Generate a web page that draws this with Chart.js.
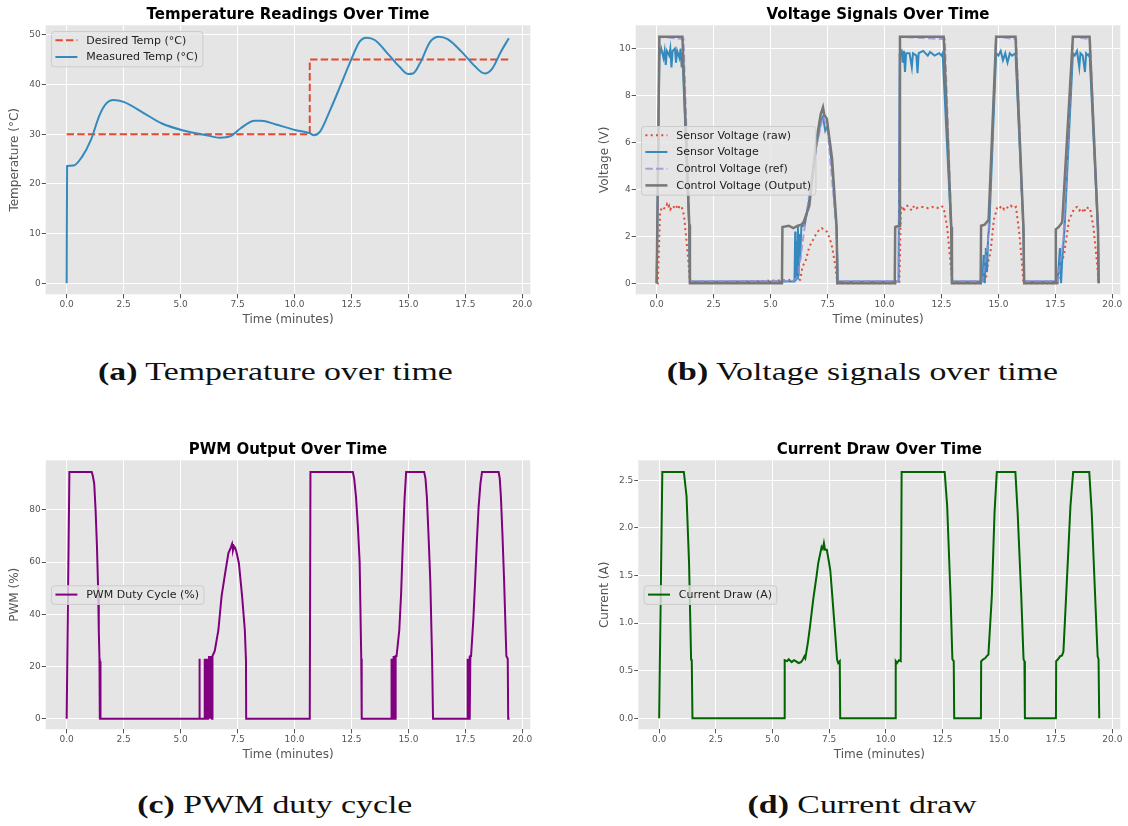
<!DOCTYPE html>
<html>
<head>
    <title>Controller Log</title>
    <meta charset="UTF-8">
    <script src="https://cdn.jsdelivr.net/npm/chart.js@4.4.1/dist/chart.umd.min.js"></script>
    <style>
        body { margin: 0; background: #fff; width: 1128px; height: 826px; position: relative; overflow: hidden; }
        canvas { position: absolute; }
        .cap { position: absolute; width: 560px; text-align: center; font-family: "Liberation Serif", serif; font-size: 26px; line-height: 36px; color: #111; }
        .cap span { display: inline-block; transform: scaleX(1.3); transform-origin: center; }
    </style>
</head>
<body>
    <canvas id="tempChart" width="564" height="340" style="left:0;top:0"></canvas>
    <canvas id="voltChart" width="538" height="340" style="left:590px;top:0"></canvas>
    <canvas id="pwmChart" width="564" height="340" style="left:0;top:435px"></canvas>
    <canvas id="currentChart" width="538" height="340" style="left:590px;top:435px"></canvas>

    <div class="cap" style="left:-5px;top:354px"><span><b>(a)</b> Temperature over time</span></div>
    <div class="cap" style="left:582px;top:354px"><span><b>(b)</b> Voltage signals over time</span></div>
    <div class="cap" style="left:-5px;top:787px"><span><b>(c)</b> PWM duty cycle</span></div>
    <div class="cap" style="left:582px;top:787px"><span><b>(d)</b> Current draw</span></div>

    <script>
        // tick labels
        const timeTicks = [0, 2.5, 5, 7.5, 10, 12.5, 15, 17.5, 20];
        const tempTicks = [0, 10, 20, 30, 40, 50];
        const voltTicks = [0, 2, 4, 6, 8, 10];
        const pwmTicks = [0, 20, 40, 60, 80];
        const currentTicks = [0, 0.5, 1, 1.5, 2, 2.5];

        // temperature (minutes, degC)
        const setTime = [0, 10.67, 10.67, 19.41];
        const setTemp = [30, 30, 45, 45];
        const tempTime = [0, 0.02, 0.3, 0.68, 1.06, 1.44, 1.74, 2.04, 2.5, 3.4, 4.16, 5.07, 6.13, 6.73, 7.19, 7.64, 8.25, 8.55, 9.15, 10.06, 10.67, 10.85, 11.12, 11.57, 12.03, 12.48, 12.86, 13.16, 13.54, 14.15, 14.6, 14.98, 15.2, 15.5, 15.96, 16.34, 16.72, 17.33, 17.93, 18.35, 18.68, 19.06, 19.41];
        const tempMeasured = [0, 23.6, 23.7, 25.5, 28.8, 33.8, 36.2, 36.9, 36.5, 34.2, 32.2, 30.8, 29.8, 29.3, 29.6, 31.2, 32.7, 32.7, 32.0, 30.8, 30.2, 29.8, 30.5, 34.9, 39.9, 44.9, 48.6, 49.4, 48.9, 45.9, 43.6, 42.1, 42.2, 44.2, 48.6, 49.6, 49.1, 46.6, 43.6, 42.2, 43.2, 46.6, 49.3];

        // voltages
        const rawTime = [0, 0.05, 0.15, 0.23, 0.3, 0.4, 0.45, 0.5, 0.55, 0.6, 0.7, 0.8, 0.85, 0.95, 1.0, 1.1, 1.2, 1.28, 1.4, 1.46, 6.3, 6.4, 6.55, 6.7, 7.0, 7.15, 7.25, 7.35, 7.47, 7.6, 7.7, 7.85, 7.93, 10.65, 10.72, 10.8, 10.85, 10.9, 11.0, 11.1, 11.2, 11.3, 11.4, 11.5, 11.7, 11.9, 12.1, 12.3, 12.5, 12.6, 12.75, 12.9, 12.98, 14.35, 14.45, 14.55, 14.65, 14.8, 14.95, 15.05, 15.15, 15.25, 15.35, 15.45, 15.55, 15.65, 15.77, 15.92, 16.05, 16.1, 17.6, 17.7, 17.89, 18.1, 18.34, 18.45, 18.55, 18.65, 18.75, 18.85, 18.95, 19.02, 19.17, 19.33, 19.4];
        const rawVolt = [0, 0, 3.0, 3.25, 3.2, 3.2, 3.35, 3.2, 3.3, 3.15, 3.3, 3.2, 3.3, 3.15, 3.3, 3.25, 2.9, 2.1, 0.85, 0, 0.15, 0.7, 1.0, 1.55, 2.1, 2.3, 2.35, 2.25, 2.2, 1.9, 1.55, 0.7, 0, 0, 3.2, 3.3, 3.05, 3.25, 3.3, 3.2, 3.1, 3.3, 3.2, 3.25, 3.25, 3.2, 3.25, 3.2, 3.3, 3.2, 2.4, 0.85, 0, 0, 0.2, 0.9, 1.3, 2.7, 3.25, 3.2, 3.3, 3.15, 3.25, 3.2, 3.3, 3.2, 3.25, 2.1, 0.7, 0, 0, 0.5, 1.3, 2.7, 3.2, 3.25, 3.1, 3.2, 3.0, 3.25, 3.2, 3.2, 2.4, 0.85, 0];
        const sensTime = [0, 0.12, 0.2, 0.3, 0.35, 0.4, 0.45, 0.55, 0.6, 0.65, 0.7, 0.8, 0.85, 0.9, 1.0, 1.05, 1.1, 1.13, 1.43, 1.46, 6.05, 6.08, 6.1, 6.13, 6.16, 6.2, 6.23, 6.27, 6.3, 6.35, 6.5, 6.7, 7.0, 7.2, 7.3, 7.4, 7.5, 7.7, 7.9, 7.95, 10.6, 10.62, 10.67, 10.75, 10.8, 10.85, 10.9, 10.95, 11.1, 11.2, 11.25, 11.4, 11.45, 11.5, 11.7, 11.9, 12.0, 12.2, 12.4, 12.5, 12.55, 12.93, 12.96, 14.3, 14.35, 14.4, 14.45, 14.5, 14.55, 14.6, 14.9, 15.0, 15.1, 15.2, 15.3, 15.4, 15.5, 15.6, 15.75, 16.1, 16.13, 17.6, 17.7, 17.75, 17.8, 17.9, 18.27, 18.35, 18.45, 18.55, 18.6, 18.7, 18.8, 18.85, 18.95, 19.0, 19.37, 19.4];
        const sensVolt = [0, 9.7, 10.0, 9.6, 9.9, 9.3, 9.9, 9.7, 10.0, 9.2, 9.9, 10.0, 9.4, 9.9, 9.6, 10.0, 9.2, 9.8, 2.3, 0.08, 0.08, 2.2, 0.1, 1.8, 0.2, 2.4, 0.3, 2.1, 1.0, 2.4, 2.5, 3.6, 5.8, 6.9, 7.1, 6.5, 6.7, 5.0, 2.2, 0.08, 0.08, 0.3, 9.8, 9.9, 9.4, 9.9, 9.0, 9.8, 9.8, 9.2, 9.8, 9.7, 8.95, 9.8, 9.9, 9.7, 9.85, 9.7, 9.8, 9.7, 9.8, 2.2, 0.08, 0.08, 1.2, 0.0, 1.5, 0.5, 2.0, 2.4, 9.8, 9.7, 9.9, 9.5, 9.8, 9.4, 9.8, 9.7, 9.8, 2.2, 0.08, 0.08, 1.5, 0.0, 1.0, 2.3, 9.8, 9.7, 9.9, 9.2, 9.8, 9.7, 9.0, 9.8, 9.7, 9.8, 2.2, 0];
        const refTime = [0, 0.12, 1.18, 1.45, 1.47, 6.0, 6.2, 6.5, 7.0, 7.3, 7.5, 7.9, 7.95, 10.62, 10.68, 12.65, 12.95, 12.98, 14.3, 14.55, 14.9, 15.78, 16.1, 16.13, 17.6, 17.85, 18.27, 19.02, 19.38, 19.4];
        const refVolt = [0, 10.5, 10.4, 2.0, 0.1, 0.1, 0.3, 2.4, 5.8, 7.1, 6.6, 2.2, 0.1, 0.1, 10.5, 10.4, 2.0, 0.1, 0.1, 1.8, 10.5, 10.4, 2.0, 0.1, 0.1, 1.8, 10.5, 10.4, 2.0, 0.1];
        const outTime = [0, 0.12, 1.13, 1.43, 1.46, 5.5, 5.52, 5.8, 6.0, 6.2, 6.35, 6.45, 6.7, 7.0, 7.2, 7.3, 7.35, 7.47, 7.7, 7.9, 7.93, 10.45, 10.47, 10.65, 10.68, 12.6, 12.93, 12.96, 14.22, 14.24, 14.4, 14.57, 14.9, 15.75, 16.1, 16.13, 17.5, 17.52, 17.65, 17.8, 18.27, 19.0, 19.37, 19.4];
        const outVolt = [0, 10.5, 10.5, 2.5, 0, 0, 2.4, 2.45, 2.35, 2.45, 2.5, 2.6, 3.3, 6.0, 7.2, 7.5, 7.2, 7.0, 5.3, 2.4, 0, 0, 2.4, 2.45, 10.5, 10.5, 2.4, 0, 0, 2.45, 2.5, 2.7, 10.5, 10.5, 2.4, 0, 0, 2.3, 2.4, 2.6, 10.5, 10.5, 2.4, 0];

        // PWM duty cycle (%)
        const pwmTime = [0, 0.12, 1.1, 1.15, 1.21, 1.27, 1.33, 1.38, 1.41, 1.44, 1.45, 1.46, 1.47, 1.48, 1.49, 5.82, 5.83, 5.84, 6.05, 6.06, 6.08, 6.1, 6.12, 6.15, 6.17, 6.2, 6.22, 6.25, 6.27, 6.3, 6.32, 6.35, 6.38, 6.4, 6.5, 6.66, 6.8, 6.96, 7.1, 7.2, 7.26, 7.3, 7.35, 7.4, 7.45, 7.56, 7.7, 7.82, 7.87, 7.88, 10.67, 10.7, 12.56, 12.62, 12.7, 12.78, 12.86, 12.93, 12.95, 14.25, 14.26, 14.28, 14.3, 14.32, 14.35, 14.37, 14.4, 14.42, 14.44, 14.48, 14.6, 14.68, 14.75, 14.83, 14.9, 15.69, 15.75, 15.81, 15.88, 15.96, 16.04, 16.07, 16.08, 17.58, 17.59, 17.61, 17.64, 17.66, 17.68, 17.7, 17.72, 17.75, 17.85, 17.93, 18.0, 18.08, 18.16, 18.23, 18.96, 19.01, 19.06, 19.13, 19.2, 19.3, 19.36, 19.38, 19.44];
        const pwmDuty = [0, 94.6, 94.6, 93, 90, 80, 66, 50, 34, 23, 0, 23, 0, 22, 0, 0, 23, 0, 0, 23, 0, 23, 0, 23, 0, 23, 0, 24, 0, 24, 0, 23, 0, 24, 26, 34, 47, 56, 63.5, 65.5, 67, 64.5, 66, 65.4, 64, 59.6, 47, 34, 22.5, 0, 0, 94.6, 94.6, 92, 85, 74, 60, 23, 0, 0, 23, 0, 23, 0, 24, 0, 24, 0, 24, 24, 34, 48, 66, 84, 94.6, 94.6, 92, 85, 71, 53, 23, 23, 0, 0, 23, 0, 23, 0, 24, 0, 24, 24, 38, 53, 67, 81, 90, 94.6, 94.6, 92, 85, 70, 53, 24, 23, 0, 0];

        // current draw (A)
        const curTime = [0, 0.14, 1.09, 1.21, 1.32, 1.41, 1.44, 1.47, 5.53, 5.54, 5.65, 5.72, 5.85, 5.95, 6.03, 6.15, 6.26, 6.35, 6.41, 6.45, 6.56, 6.65, 6.71, 6.8, 6.86, 6.95, 7.02, 7.1, 7.17, 7.22, 7.27, 7.32, 7.4, 7.48, 7.55, 7.62, 7.7, 7.78, 7.85, 7.9, 7.97, 7.99, 10.43, 10.44, 10.5, 10.58, 10.66, 10.7, 12.6, 12.71, 12.86, 12.94, 13.0, 13.02, 14.2, 14.21, 14.3, 14.38, 14.45, 14.53, 14.68, 14.8, 14.9, 15.72, 15.82, 15.98, 16.08, 16.12, 16.14, 17.51, 17.52, 17.6, 17.69, 17.78, 17.84, 18.03, 18.15, 18.27, 18.98, 19.09, 19.24, 19.35, 19.39, 19.42];
        const curAmp = [0, 2.588, 2.588, 2.33, 1.63, 0.62, 0.6, 0, 0, 0.61, 0.6, 0.62, 0.59, 0.61, 0.6, 0.58, 0.59, 0.62, 0.65, 0.63, 0.79, 0.95, 1.07, 1.25, 1.35, 1.5, 1.63, 1.72, 1.8, 1.78, 1.84, 1.77, 1.77, 1.66, 1.56, 1.35, 1.1, 0.85, 0.62, 0.58, 0.6, 0, 0, 0.6, 0.58, 0.61, 0.6, 2.588, 2.588, 2.23, 1.28, 0.62, 0.6, 0, 0, 0.6, 0.62, 0.63, 0.65, 0.67, 1.28, 2.16, 2.588, 2.588, 2.16, 1.28, 0.62, 0.6, 0, 0, 0.6, 0.62, 0.65, 0.66, 0.7, 1.63, 2.23, 2.588, 2.588, 2.16, 1.28, 0.65, 0.62, 0];

        Chart.defaults.font.family = 'DejaVu Sans';

        function pts(xs, ys) {
            return xs.map((x, i) => ({ x: x, y: ys[i] }));
        }

        // grey panel behind the plot, ggplot style
        const ggBackground = {
            id: 'ggBackground',
            beforeDraw(chart) {
                const { ctx, chartArea: a } = chart;
                ctx.save();
                ctx.fillStyle = '#E5E5E5';
                ctx.fillRect(a.left, a.top, a.right - a.left, a.bottom - a.top);
                ctx.restore();
            }
        };

        // matplotlib-like legend box inside the plot
        const mplLegend = {
            id: 'mplLegend',
            afterDatasetsDraw(chart, args, opts) {
                const { ctx, chartArea: a } = chart;
                const sets = chart.data.datasets;
                const row = 16.7, pad = 4.4, handle = 22, gap = 8.8;
                ctx.save();
                ctx.font = '11px "DejaVu Sans"';
                const textW = Math.max(...sets.map(d => ctx.measureText(d.label).width));
                const x0 = a.left + opts.left, y0 = a.top + opts.top;
                const w = pad + handle + gap + textW + pad;
                const h = 18.6 + row * (sets.length - 1);
                ctx.beginPath();
                ctx.roundRect(x0 + 0.5, y0 + 0.5, w, h, 3);
                ctx.fillStyle = 'rgba(229,229,229,0.8)';
                ctx.fill();
                ctx.strokeStyle = '#cccccc';
                ctx.lineWidth = 1;
                ctx.stroke();
                sets.forEach((d, i) => {
                    const y = y0 + 9.3 + i * row;
                    ctx.beginPath();
                    ctx.setLineDash(d.borderDash || []);
                    ctx.strokeStyle = d.borderColor;
                    ctx.lineWidth = d.borderWidth;
                    ctx.moveTo(x0 + pad, y);
                    ctx.lineTo(x0 + pad + handle, y);
                    ctx.stroke();
                    ctx.setLineDash([]);
                    ctx.fillStyle = '#222';
                    ctx.textBaseline = 'middle';
                    ctx.fillText(d.label, x0 + pad + handle + gap, y + 0.5);
                });
                ctx.restore();
            }
        };

        function makePanel(id, cfg) {
            const n = cfg.datasets.length;
            cfg.datasets.forEach((d, i) => { d.order = n - i; });
            return new Chart(document.getElementById(id), {
                type: 'line',
                data: { datasets: cfg.datasets },
                options: {
                    responsive: false,
                    animation: false,
                    layout: { padding: { left: 0, right: cfg.padRight, top: 0, bottom: 0 } },
                    elements: { point: { radius: 0 }, line: { tension: 0, borderCapStyle: 'butt' } },
                    plugins: {
                        legend: { display: false },
                        tooltip: { enabled: false },
                        title: {
                            display: true,
                            text: cfg.title,
                            color: '#000',
                            fullSize: false,
                            font: { size: 15, weight: 'bold' },
                            padding: { top: 6, bottom: 1.3 }
                        },
                        mplLegend: { left: 5.3, top: cfg.legendTop }
                    },
                    scales: {
                        x: {
                            type: 'linear',
                            min: -0.92,
                            max: 20.35,
                            afterBuildTicks: s => { s.ticks = timeTicks.map(v => ({ value: v })); },
                            afterFit: s => { s.height = 45.7; },
                            ticks: { callback: v => v.toFixed(1), color: '#555', font: { size: 9 }, padding: 1, maxRotation: 0, autoSkip: false },
                            grid: { color: '#fff', lineWidth: 1, tickColor: '#555', tickLength: 4 },
                            border: { display: false },
                            title: { display: true, text: 'Time (minutes)', color: '#555', font: { size: 12 }, padding: { top: 0, bottom: 12.8 } }
                        },
                        y: {
                            min: cfg.yMin,
                            max: cfg.yMax,
                            afterBuildTicks: s => { s.ticks = cfg.yTicks.map(v => ({ value: v })); },
                            afterFit: s => { s.width = cfg.yWidth; },
                            ticks: { callback: cfg.yFormat, color: '#555', font: { size: 9 }, padding: 1, autoSkip: false },
                            grid: { color: '#fff', lineWidth: 1, tickColor: '#555', tickLength: 4 },
                            border: { display: false },
                            title: { display: true, text: cfg.yLabel, color: '#555', font: { size: 12 }, padding: { top: 8, bottom: 0 } }
                        }
                    }
                },
                plugins: [ggBackground, mplLegend]
            });
        }

        makePanel('tempChart', {
            title: 'Temperature Readings Over Time',
            yLabel: 'Temperature (°C)',
            yMin: -2.2, yMax: 51.9, yTicks: tempTicks, yFormat: v => v.toFixed(0),
            yWidth: 45.7, padRight: 33.7, legendTop: 5.7,
            datasets: [
                { label: 'Desired Temp (°C)', data: pts(setTime, setTemp), borderColor: '#E24A33', borderWidth: 2, borderDash: [7.4, 3.2] },
                { label: 'Measured Temp (°C)', data: pts(tempTime, tempMeasured), borderColor: '#348ABD', borderWidth: 2, cubicInterpolationMode: 'monotone' }
            ]
        });

        makePanel('voltChart', {
            title: 'Voltage Signals Over Time',
            yLabel: 'Voltage (V)',
            yMin: -0.47, yMax: 10.99, yTicks: voltTicks, yFormat: v => v.toFixed(0),
            yWidth: 45.7, padRight: 7.7, legendTop: 100.7,
            datasets: [
                { label: 'Sensor Voltage (raw)', data: pts(rawTime, rawVolt), borderColor: '#E24A33', borderWidth: 2, borderDash: [2, 3.3] },
                { label: 'Sensor Voltage', data: pts(sensTime, sensVolt), borderColor: '#348ABD', borderWidth: 2 },
                { label: 'Control Voltage (ref)', data: pts(refTime, refVolt), borderColor: 'rgba(152,142,213,0.8)', borderWidth: 2, borderDash: [7.4, 3.2] },
                { label: 'Control Voltage (Output)', data: pts(outTime, outVolt), borderColor: '#777777', borderWidth: 2.5 }
            ]
        });

        makePanel('pwmChart', {
            title: 'PWM Output Over Time',
            yLabel: 'PWM (%)',
            yMin: -4.07, yMax: 99.04, yTicks: pwmTicks, yFormat: v => v.toFixed(0),
            yWidth: 45.7, padRight: 33.7, legendTop: 125,
            datasets: [
                { label: 'PWM Duty Cycle (%)', data: pts(pwmTime, pwmDuty), borderColor: '#800080', borderWidth: 2 }
            ]
        });

        makePanel('currentChart', {
            title: 'Current Draw Over Time',
            yLabel: 'Current (A)',
            yMin: -0.116, yMax: 2.71, yTicks: currentTicks, yFormat: v => v.toFixed(1),
            yWidth: 48.3, padRight: 7.7, legendTop: 125,
            datasets: [
                { label: 'Current Draw (A)', data: pts(curTime, curAmp), borderColor: '#006400', borderWidth: 2 }
            ]
        });
    </script>
</body>
</html>
